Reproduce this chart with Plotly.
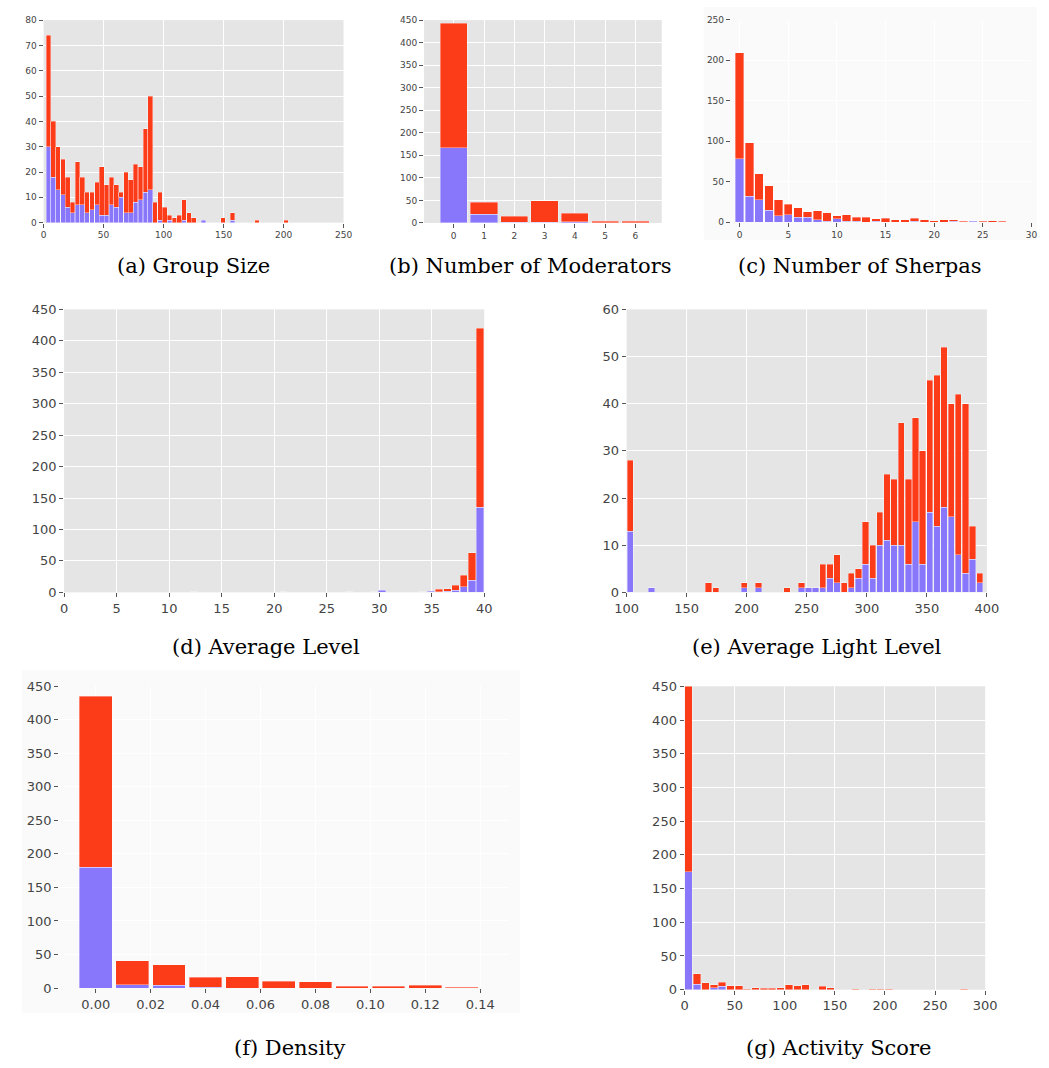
import numpy as np
import plotly.graph_objects as go

W, H = 1049, 1068
RED = "#fc3b19"
BLUE = "#8877fb"
EDGE = "rgba(255,255,255,0.45)"

# ---------------- data (counts) ----------------
# (a) Group Size : 50 bins, start 2, width 4.04
a_start, a_width = 2.0, 4.04
a_blue = [30, 18, 13, 11, 6, 4, 7, 7, 4, 5, 7, 3, 3, 7, 6, 10, 4, 4, 8, 9,
          12, 13, 0, 1, 0, 1, 0, 0, 1, 0, 0, 0, 1, 0, 0, 0, 0, 0, 1, 0,
          0, 0, 0, 0, 0, 0, 0, 0, 0, 0]
a_red = [44, 22, 17, 14, 12, 4, 17, 11, 8, 7, 9, 19, 12, 11, 9, 2, 16, 13, 15, 13,
         25, 37, 8, 11, 6, 2, 2, 3, 8, 4, 2, 0, 0, 0, 0, 0, 2, 0, 3, 0,
         0, 0, 0, 1, 0, 0, 0, 0, 0, 1]

# (b) Number of Moderators
b_cats = [0, 1, 2, 3, 4, 5, 6]
b_blue = [167, 19, 2, 1, 3, 0, 0]
b_red = [276, 27, 13, 48, 19, 4, 4]

# (c) Number of Sherpas
c_cats = list(range(28))
c_blue = [78, 32, 28, 15, 8, 9, 6, 6, 3, 1, 4, 1, 1, 0, 1, 0, 0, 0, 1, 0, 0, 0, 1, 0, 1, 0, 0, 0]
c_red = [131, 66, 32, 30, 20, 13, 12, 7, 11, 11, 4, 8, 5, 6, 3, 5, 3, 3, 4, 3, 2, 3, 2, 1, 0, 1, 2, 1]

# (d) Average Level : 50 bins, start 1, width 0.78
d_start, d_width = 1.0, 0.78
d_blue = [0] * 25 + [1] + [0] * 10 + [1, 3, 0, 0, 0, 0, 0, 2, 1, 2, 3, 9, 19, 135]
d_red = [0] * 14 + [1] + [0] * 18 + [1] + [0] * 8 + [1, 0, 4, 4, 8, 18, 44, 285]

# (e) Average Light Level : 50 bins, start 100, width 5.94
e_start, e_width = 100.0, 5.94
e_blue = [13, 0, 0, 1, 0, 0, 0, 0, 0, 0, 0, 0, 0, 0, 0, 0, 1, 0, 1, 0,
          0, 0, 0, 0, 1, 1, 1, 1, 3, 2, 0, 1, 3, 6, 3, 10, 11, 10, 10, 6,
          15, 6, 17, 14, 18, 16, 8, 4, 7, 2]
e_red = [15, 0, 0, 0, 0, 0, 0, 0, 0, 0, 0, 2, 1, 0, 0, 0, 1, 0, 1, 0,
         0, 0, 1, 0, 1, 0, 0, 5, 3, 6, 2, 3, 2, 9, 7, 7, 14, 14, 26, 18,
         22, 24, 28, 32, 34, 24, 34, 36, 7, 2]

# (f) Density : 11 bins centred at multiples of 0.01333
f_step = 0.01333
f_blue = [180, 5, 4, 1, 0, 0, 0, 0, 0, 0, 0]
f_red = [255, 36, 31, 15, 17, 10, 9, 3, 3, 4, 1]

# (g) Activity Score : 34 bins, start 0, width 8.33
g_start, g_width = 0.0, 8.33
g_blue = [175, 8, 0, 3, 5] + [0] * 29
g_red = [275, 16, 10, 4, 6, 6, 6, 1, 3, 2, 2, 3, 7, 6, 7, 0, 5, 3, 0, 0,
         1, 0, 1, 1, 1, 0, 0, 0, 0, 0, 0, 0, 0, 1]


def centers(start, width, n):
    return list(start + width * (np.arange(n) + 0.5))


def nz(v):
    return [x if x else None for x in v]


panels = [
    dict(x=centers(a_start, a_width, len(a_blue)), blue=a_blue, red=a_red, w=a_width * 0.96,
         px=(32.3, 339.3, 13.3, 218.7), xr=[0, 250], yr=[0, 80],
         xt=list(range(0, 251, 50)), yt=list(range(0, 81, 10)), fs=9,
         cap="(a) Group Size", cx=185.5, cy=263),
    dict(x=b_cats, blue=b_blue, red=b_red, w=0.9,
         px=(421.7, 665.0, 13.3, 219.0), xr=[-0.98, 6.87], yr=[0, 450],
         xt=b_cats, yt=list(range(0, 451, 50)), fs=9,
         cap="(b) Number of Moderators", cx=530, cy=263),
    dict(x=c_cats, blue=c_blue, red=c_red, w=0.87,
         px=(735.7, 1043.3, 12.7, 218.3), xr=[-0.9, 30], yr=[0, 250],
         xt=list(range(0, 31, 5)), yt=list(range(0, 251, 50)), fs=9,
         cap="(c) Number of Sherpas", cx=867, cy=263),
    dict(x=centers(d_start, d_width, len(d_blue)), blue=d_blue, red=d_red, w=d_width * 0.9,
         px=(53.3, 483.3, 306.7, 593.7), xr=[0, 40], yr=[0, 450],
         xt=list(range(0, 41, 5)), yt=list(range(0, 451, 50)), fs=13,
         cap="(d) Average Level", cx=260, cy=649),
    dict(x=centers(e_start, e_width, len(e_blue)), blue=e_blue, red=e_red, w=e_width * 0.88,
         px=(629.0, 997.7, 306.7, 593.7), xr=[100, 400], yr=[0, 60],
         xt=list(range(100, 401, 50)), yt=list(range(0, 61, 10)), fs=13,
         cap="(e) Average Light Level", cx=824, cy=649),
    dict(x=[f_step * k for k in range(len(f_blue))], blue=f_blue, red=f_red, w=0.0119,
         px=(48.3, 507.3, 689.0, 995.0), xr=[-0.0133, 0.15], yr=[0, 450],
         xt=[0.0, 0.02, 0.04, 0.06, 0.08, 0.10, 0.12, 0.14], yt=list(range(0, 451, 50)), fs=13,
         cap="(f) Density", cx=284, cy=1056, fmt=".2f"),
    dict(x=centers(g_start, g_width, len(g_blue)), blue=g_blue, red=g_red, w=g_width * 0.9,
         px=(688.3, 996.0, 689.0, 996.7), xr=[0, 300], yr=[0, 450],
         xt=list(range(0, 301, 50)), yt=list(range(0, 451, 50)), fs=13,
         cap="(g) Activity Score", cx=846, cy=1056),
]

fig = go.Figure()
layout = dict(
    width=W, height=H, margin=dict(l=0, r=0, t=0, b=0),
    paper_bgcolor="white", plot_bgcolor="#e5e5e5",
    barmode="stack", showlegend=False, annotations=[],
    shapes=[
        dict(type="rect", xref="paper", yref="paper", layer="below",
             x0=708 / W, x1=1.0, y0=1 - 236 / H, y1=1.0,
             fillcolor="#fafafa", line=dict(width=0)),
        dict(type="rect", xref="paper", yref="paper", layer="below",
             x0=10 / W, x1=520 / W, y0=1 - 1020 / H, y1=1 - 673 / H,
             fillcolor="#fafafa", line=dict(width=0)),
    ],
)

for i, p in enumerate(panels, start=1):
    xa = "x" if i == 1 else f"x{i}"
    ya = "y" if i == 1 else f"y{i}"
    for vals, col in ((p["blue"], BLUE), (p["red"], RED)):
        fig.add_trace(go.Bar(
            x=p["x"], y=nz(vals), width=p["w"], xaxis=xa, yaxis=ya,
            marker=dict(color=col, line=dict(color=EDGE, width=0.8)),
            hoverinfo="x+y"))
    x0, x1, y0, y1 = p["px"]
    tick = dict(ticks="outside", ticklen=4, tickwidth=1, tickcolor="#555",
                showgrid=True, gridcolor="white", gridwidth=1, zeroline=False,
                showline=False, tickfont=dict(family="DejaVu Sans", size=p["fs"], color="#444"))
    xkey = "xaxis" if i == 1 else f"xaxis{i}"
    ykey = "yaxis" if i == 1 else f"yaxis{i}"
    layout[xkey] = dict(domain=[x0 / W, x1 / W], range=p["xr"], anchor=ya,
                        tickmode="array", tickvals=p["xt"],
                        tickformat=p.get("fmt", ""), **tick)
    layout[ykey] = dict(domain=[1 - y1 / H, 1 - y0 / H], range=p["yr"], anchor=xa,
                        tickmode="array", tickvals=p["yt"], **tick)
    layout["annotations"].append(dict(
        text=p["cap"], x=p["cx"] / W, y=1 - p["cy"] / H, xref="paper", yref="paper",
        showarrow=False, xanchor="center", yanchor="middle",
        font=dict(family="DejaVu Serif", size=21, color="black")))

fig.update_layout(**layout)
fig.write_html("out.html")
